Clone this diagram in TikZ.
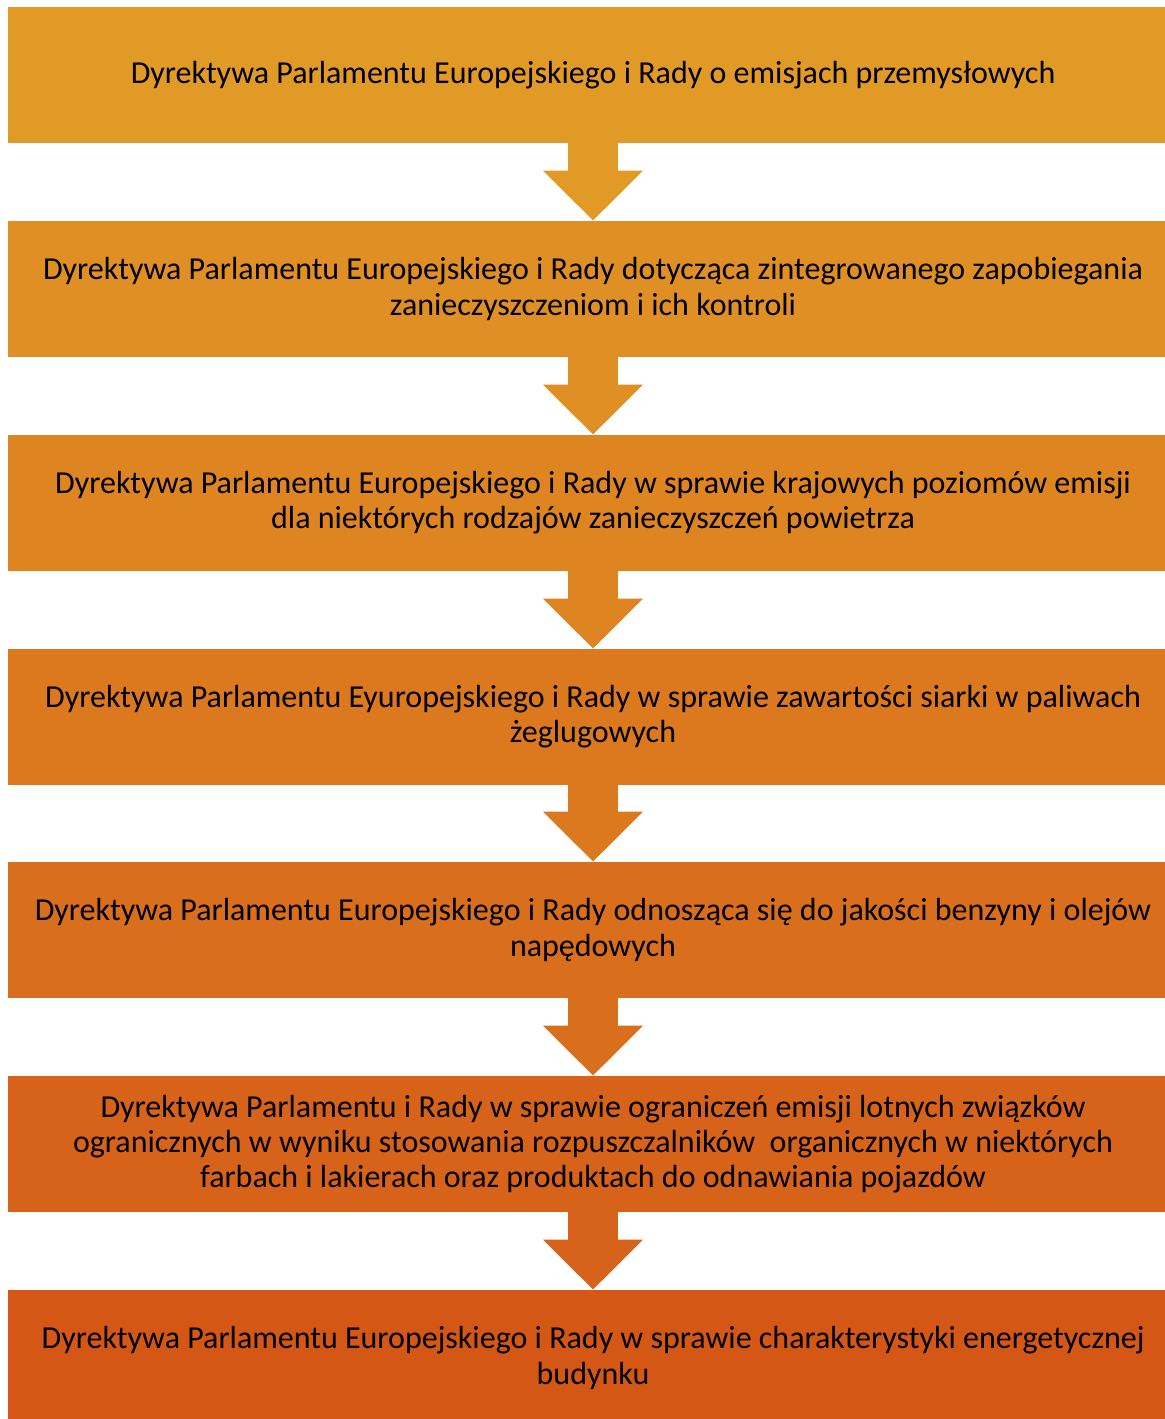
\documentclass[tikz,border=0pt]{standalone}
\usepackage{fontspec}
\setmainfont{Carlito}
\usetikzlibrary{arrows.meta}

\definecolor{dcolA}{RGB}{226,154,39}
\definecolor{dcolB}{RGB}{224,143,36}
\definecolor{dcolC}{RGB}{222,132,33}
\definecolor{dcolD}{RGB}{220,121,31}
\definecolor{dcolE}{RGB}{217,110,28}
\definecolor{dcolF}{RGB}{215,98,25}
\definecolor{dcolG}{RGB}{213,87,22}

\tikzset{
  dbox/.style={rectangle, minimum width=585pt, minimum height=68pt, inner sep=0pt, align=center, font=\fontsize{16}{17.6}\selectfont},
  darrow/.style={line width=25pt, -{Triangle[width=48.5pt,length=25pt]}}
}

\begin{document}
\begin{tikzpicture}[x=0.5pt, y=-0.5pt]
\useasboundingbox (0,0) rectangle (1164,1419);

\node[dbox, fill=dcolA] (d1) at (593,75) {Dyrektywa Parlamentu Europejskiego i Rady o emisjach przemysłowych};
\node[dbox, fill=dcolB] (d2) at (593,289) {Dyrektywa Parlamentu Europejskiego i Rady dotycząca zintegrowanego zapobiegania\\zanieczyszczeniom i ich kontroli};
\node[dbox, fill=dcolC] (d3) at (593,503) {Dyrektywa Parlamentu Europejskiego i Rady w sprawie krajowych poziomów emisji\\dla niektórych rodzajów zanieczyszczeń powietrza};
\node[dbox, fill=dcolD] (d4) at (593,717) {Dyrektywa Parlamentu Eyuropejskiego i Rady w sprawie zawartości siarki w paliwach\\żeglugowych};
\node[dbox, fill=dcolE] (d5) at (593,930) {Dyrektywa Parlamentu Europejskiego i Rady odnosząca się do jakości benzyny i olejów\\napędowych};
\node[dbox, fill=dcolF] (d6) at (593,1144) {Dyrektywa Parlamentu i Rady w sprawie ograniczeń emisji lotnych związków\\ogranicznych w wyniku stosowania rozpuszczalników~ organicznych w niektórych\\farbach i lakierach oraz produktach do odnawiania pojazdów};
\node[dbox, fill=dcolG] (d7) at (593,1358) {Dyrektywa Parlamentu Europejskiego i Rady w sprawie charakterystyki energetycznej\\budynku};

\draw[darrow, draw=dcolA, fill=dcolA] (d1.south) -- (d2.north);
\draw[darrow, draw=dcolB, fill=dcolB] (d2.south) -- (d3.north);
\draw[darrow, draw=dcolC, fill=dcolC] (d3.south) -- (d4.north);
\draw[darrow, draw=dcolD, fill=dcolD] (d4.south) -- (d5.north);
\draw[darrow, draw=dcolE, fill=dcolE] (d5.south) -- (d6.north);
\draw[darrow, draw=dcolF, fill=dcolF] (d6.south) -- (d7.north);
\end{tikzpicture}
\end{document}
